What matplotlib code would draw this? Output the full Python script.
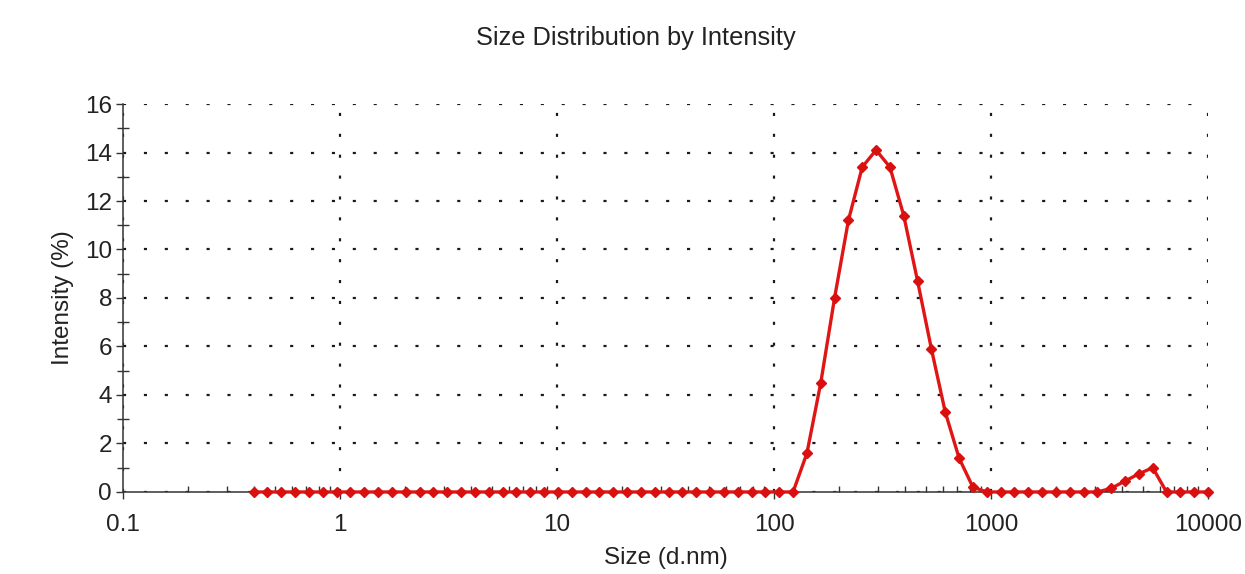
import numpy as np
import matplotlib.pyplot as plt
from matplotlib.ticker import LogLocator, FixedLocator, NullFormatter

plt.rcParams['font.family'] = ['Liberation Sans', 'DejaVu Sans']

# size classes (d.nm)
size = [0.4, 0.4632, 0.5365, 0.6213, 0.7195, 0.8332, 0.9649,
        1.117, 1.294, 1.499, 1.736, 2.01, 2.328, 2.696, 3.122, 3.615,
        4.187, 4.849, 5.615, 6.503, 7.531, 8.721,
        10.1, 11.7, 13.54, 15.69, 18.17, 21.04, 24.36, 28.21, 32.67,
        37.84, 43.82, 50.75, 58.77, 68.06, 78.82, 91.28,
        105.7, 122.4, 141.8, 164.2, 190.1, 220.2, 255.0, 295.3, 342.0,
        396.1, 458.7, 531.2, 615.1, 712.4, 825.0, 955.4,
        1106, 1281, 1484, 1718, 1990, 2305, 2669, 3091, 3580, 4145,
        4801, 5560, 6439, 7456, 8635, 10000]

# intensity (%)
intensity = [0]*40 + [1.6, 4.5, 8.0, 11.2, 13.4, 14.1, 13.4, 11.4, 8.7,
                      5.9, 3.3, 1.4, 0.2, 0, 0, 0, 0, 0, 0, 0, 0, 0,
                      0.15, 0.45, 0.75, 1.0, 0, 0, 0, 0]

xticks = [0.1, 1, 10, 100, 1000, 10000]
xticklabels = ['0.1', '1', '10', '100', '1000', '10000']

txt = '#222222'
fs = 17.5

fig = plt.figure(figsize=(12.45, 5.74), dpi=100)
ax = fig.add_axes([0.0988, 0.1429, 0.8715, 0.6759])

ax.plot(size, intensity, color='#e01515', lw=2.4, marker='D', ms=5.5,
        mfc='#d81010', mec='#d81010', zorder=5, clip_on=False)

ax.set_xscale('log')
ax.set_xlim(0.1, 10000)
ax.set_ylim(0, 16)
ax.set_xticks(xticks)
ax.set_xticklabels(xticklabels)
ax.xaxis.set_minor_locator(LogLocator(base=10, subs=np.arange(2, 10)))
ax.xaxis.set_minor_formatter(NullFormatter())
ax.set_yticks(range(0, 17, 2))
ax.yaxis.set_minor_locator(FixedLocator(range(1, 17, 2)))

ax.grid(True, which='major', color='#1a1a1a', linestyle=(0, (1.4, 8)), lw=1.6)
for s in ['top', 'right']:
    ax.spines[s].set_visible(False)
for s in ['left', 'bottom']:
    ax.spines[s].set_color('#333333')
    ax.spines[s].set_linewidth(1.1)

ax.tick_params(axis='x', which='major', direction='out', length=5, width=1,
               labelsize=fs, pad=11, colors='#333333', labelcolor=txt)
ax.tick_params(axis='x', which='minor', direction='in', length=4, width=1,
               colors='#333333')
ax.tick_params(axis='y', which='major', direction='out', length=5, width=1,
               labelsize=fs, pad=3, colors='#333333', labelcolor=txt)
ax.tick_params(axis='y', which='minor', direction='inout', length=8, width=1,
               colors='#333333')

ax.set_xlabel('Size (d.nm)', fontsize=fs, color=txt, labelpad=8)
ax.set_ylabel('Intensity (%)', fontsize=fs, color=txt, labelpad=8)
fig.text(0.511, 0.933, 'Size Distribution by Intensity', fontsize=18.3,
         color=txt, ha='center', va='center')

plt.savefig('out.png', dpi=100)
